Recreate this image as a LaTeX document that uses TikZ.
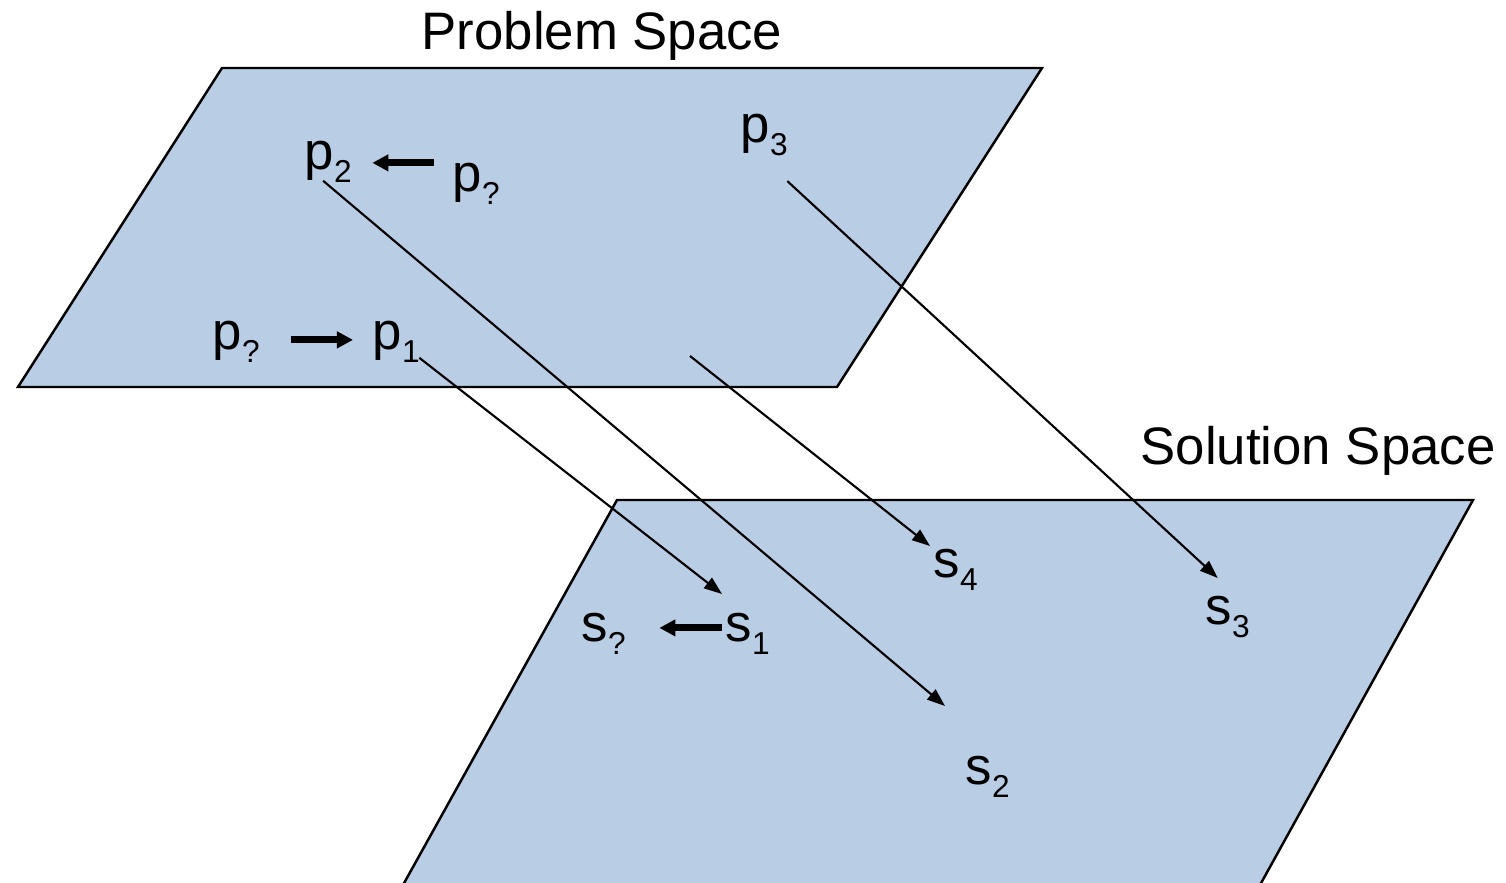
\documentclass[tikz,border=0pt]{standalone}
\usepackage{fontspec}
\setmainfont{Liberation Sans}
\usetikzlibrary{arrows.meta}
\definecolor{planeblue}{HTML}{B9CDE5}
\newcommand{\idx}[1]{\raisebox{-0.23em}{\fontsize{9}{10}\selectfont #1}}

\begin{document}
\begin{tikzpicture}[x=0.01cm, y=-0.01cm,
    every node/.style={font=\fontsize{15}{18}\selectfont, inner sep=0pt, anchor=base west},
    plane/.style={draw, line width=0.7pt, fill=planeblue},
    map/.style={-{Triangle[length=0.18cm, width=0.13cm]}, line width=0.6pt},
    order/.style={-{Triangle[length=0.16cm, width=0.16cm]}, line width=2pt}]
    \useasboundingbox (0,0) rectangle (1506,883);

    % the two spaces
    \draw[plane] (222,68) -- (1042,68) -- (837,387) -- (18,387) -- cycle;
    \draw[plane] (617,500) -- (1473,500) -- (1260,885) -- (403,885) -- cycle;
    \node (ptitle) at (421,50) {Problem Space};
    \node (stitle) at (1140,465) {Solution Space};

    % problems
    \node (p2) at (304,170) {p\idx{2}};
    \node (pq1) at (452,192) {p\idx{?}};
    \node (p3) at (740,143) {p\idx{3}};
    \node (pq2) at (212,350) {p\idx{?}};
    \node (p1) at (372,350) {p\idx{1}};

    % solutions
    \node (sq) at (581,642) {s\idx{?}};
    \node (s1) at (725,642) {s\idx{1}};
    \node (s4) at (933,578) {s\idx{4}};
    \node (s3) at (1205,625) {s\idx{3}};
    \node (s2) at (965,785) {s\idx{2}};
    \coordinate (s4src) at (690,356);

    \draw[order] ([shift={(-18,-21)}]pq1.west) -- ([shift={(20,1)}]p2.east);
    \draw[order] ([shift={(31,-2)}]pq2.east) -- ([shift={(-19,-2)}]p1.west);
    \draw[order] ([shift={(-3,-6)}]s1.west) -- ([shift={(33,-6)}]sq.east);

    \draw[map] ([shift={(-5,-2)}]p2.south) -- ([shift={(-20,-50)}]s2.north west);
    \draw[map] ([shift={(-1,-5)}]p1.south east) -- ([shift={(-3,-19)}]s1.north west);
    \draw[map] ([shift={(-1,25)}]p3.south east) -- ([shift={(-10,-18)}]s3.north);
    \draw[map] (s4src) -- ([shift={(-3,-3)}]s4.north west);

\end{tikzpicture}
\end{document}
